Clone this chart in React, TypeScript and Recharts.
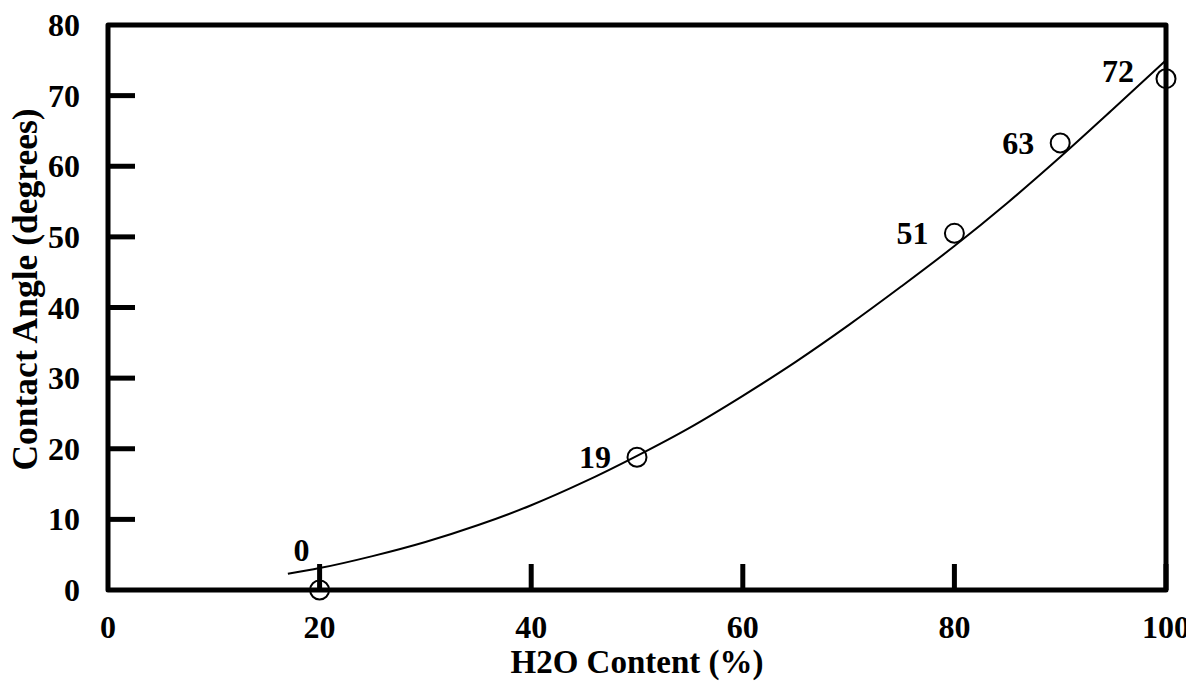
import React from "react";
import { ComposedChart, Line, Scatter, XAxis, YAxis, ReferenceArea } from "recharts";

const waterContent = [20, 50, 80, 90, 100];
const contactAngle = [0, 18.8, 50.5, 63.3, 72.4];
const pointLabels = ["0", "19", "51", "63", "72"];

const trendX = [17, 20, 25, 30, 35, 40, 45, 50, 55, 60, 65, 70, 75, 80, 85, 90, 95, 100];
const trendY = [2.3, 3.1, 4.8, 6.8, 9.2, 12.0, 15.3, 19.0, 23.0, 27.5, 32.3, 37.5, 43.0, 48.7, 54.8, 61.3, 68.1, 75.0];

const xTicks = [0, 20, 40, 60, 80, 100];
const yTicks = [0, 10, 20, 30, 40, 50, 60, 70, 80];

const points = waterContent.map((x, i) => ({ x, y: contactAngle[i], label: pointLabels[i] }));
const trend = trendX.map((x, i) => ({ x, y: trendY[i] }));

const FONT = "'Liberation Serif', 'Times New Roman', serif";
const W = 1194;
const H = 687;

const labelPlacement: Record<number, { dx: number; dy: number; anchor: "end" | "middle" }> = {
  0: { dx: -18, dy: -40, anchor: "middle" },
  4: { dx: -32, dy: -8, anchor: "end" },
};

const PointShape = (props: any) => {
  const { cx, cy, payload, index } = props;
  const idx = typeof index === "number" ? index : pointLabels.indexOf(payload?.label);
  const p = labelPlacement[idx] || { dx: -26, dy: 0, anchor: "end" };
  return (
    <g>
      <circle cx={cx} cy={cy} r={9.5} fill="none" stroke="#000" strokeWidth={2} />
      <text
        x={cx + p.dx}
        y={cy + p.dy + 11}
        textAnchor={p.anchor}
        fontFamily={FONT}
        fontWeight="bold"
        fontSize={32}
        fill="#000"
      >
        {payload.label}
      </text>
    </g>
  );
};

const XTick = (props: any) => {
  const { x, y, payload } = props;
  return (
    <g>
      {payload.value !== 0 && (
        <line x1={x} y1={y} x2={x} y2={y - 26} stroke="#000" strokeWidth={5} />
      )}
      <text x={x} y={y + 48} textAnchor="middle" fontFamily={FONT} fontWeight="bold" fontSize={32} fill="#000">
        {payload.value}
      </text>
    </g>
  );
};

const YTick = (props: any) => {
  const { x, y, payload } = props;
  return (
    <g>
      {payload.value !== 0 && payload.value !== 80 && (
        <line x1={x} y1={y} x2={x + 27} y2={y} stroke="#000" strokeWidth={5} />
      )}
      <text x={x - 28} y={y + 11} textAnchor="end" fontFamily={FONT} fontWeight="bold" fontSize={32} fill="#000">
        {payload.value}
      </text>
    </g>
  );
};

const YTitle = (props: any) => {
  const { viewBox } = props;
  const cx = viewBox.x + 25;
  const cy = viewBox.y + viewBox.height / 2 - 18;
  return (
    <text
      x={cx}
      y={cy}
      transform={`rotate(-90, ${cx}, ${cy})`}
      textAnchor="middle"
      dominantBaseline="central"
      fontFamily={FONT}
      fontWeight="bold"
      fontSize={35.5}
      fill="#000"
    >
      Contact Angle (degrees)
    </text>
  );
};

const XTitle = (props: any) => {
  const { viewBox } = props;
  const cx = viewBox.x + viewBox.width / 2;
  const cy = viewBox.y + 72;
  return (
    <text
      x={cx}
      y={cy}
      textAnchor="middle"
      dominantBaseline="central"
      fontFamily={FONT}
      fontWeight="bold"
      fontSize={33}
      fill="#000"
    >
      H2O Content (%)
    </text>
  );
};

export default function App() {
  return (
    <div style={{ width: W, height: H, marginLeft: -8, marginTop: -8 }}>
      <ComposedChart width={W} height={H} margin={{ top: 25, right: 28, bottom: 0, left: 0 }}>
        <XAxis
          type="number"
          dataKey="x"
          domain={[0, 100]}
          ticks={xTicks}
          height={97}
          axisLine={false}
          tickLine={false}
          tickSize={0}
          tickMargin={0}
          tick={<XTick />}
          interval={0}
          label={<XTitle />}
        />
        <YAxis
          type="number"
          dataKey="y"
          domain={[0, 80]}
          ticks={yTicks}
          width={108}
          axisLine={false}
          tickLine={false}
          tickSize={0}
          tickMargin={0}
          tick={<YTick />}
          interval={0}
          label={<YTitle />}
        />
        <ReferenceArea
          x1={0}
          x2={100}
          y1={0}
          y2={80}
          fill="none"
          fillOpacity={0}
          stroke="#000"
          strokeWidth={5}
          strokeLinejoin="round"
          ifOverflow="visible"
        />
        <Line
          data={trend}
          dataKey="y"
          type="monotone"
          stroke="#000"
          strokeWidth={2}
          dot={false}
          activeDot={false}
          isAnimationActive={false}
        />
        <Scatter data={points} dataKey="y" shape={<PointShape />} isAnimationActive={false} />
      </ComposedChart>
    </div>
  );
}
